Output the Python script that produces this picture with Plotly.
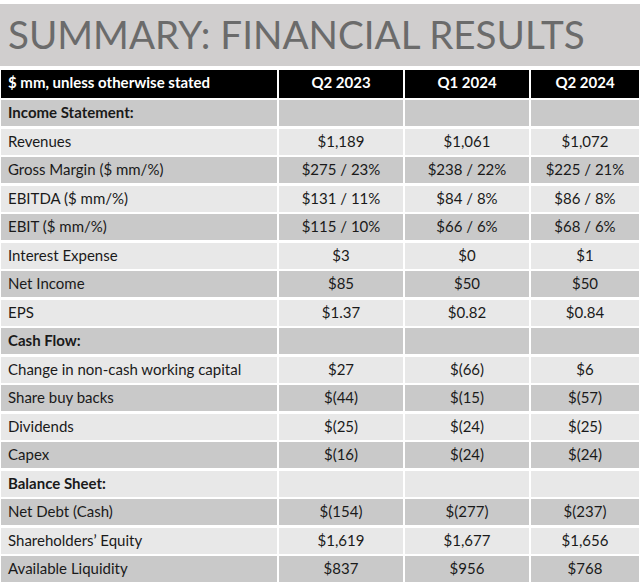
import plotly.graph_objects as go

# Données du tableau
col_headers = ["$ mm, unless otherwise stated", "Q2 2023", "Q1 2024", "Q2 2024"]

row_labels = [
    "Income Statement:", "Revenues", "Gross Margin ($ mm/%)", "EBITDA ($ mm/%)",
    "EBIT ($ mm/%)", "Interest Expense", "Net Income", "EPS",
    "Cash Flow:", "Change in non-cash working capital", "Share buy backs", "Dividends",
    "Capex", "Balance Sheet:", "Net Debt (Cash)", "Shareholders’ Equity",
    "Available Liquidity",
]
section_rows = ["Income Statement:", "Cash Flow:", "Balance Sheet:"]

q2_2023 = ["", "$1,189", "$275 / 23%", "$131 / 11%", "$115 / 10%", "$3", "$85", "$1.37",
           "", "$27", "$(44)", "$(25)", "$(16)", "", "$(154)", "$1,619", "$837"]
q1_2024 = ["", "$1,061", "$238 / 22%", "$84 / 8%", "$66 / 6%", "$0", "$50", "$0.82",
           "", "$(66)", "$(15)", "$(24)", "$(24)", "", "$(277)", "$1,677", "$956"]
q2_2024 = ["", "$1,072", "$225 / 21%", "$86 / 8%", "$68 / 6%", "$1", "$50", "$0.84",
           "", "$6", "$(57)", "$(25)", "$(24)", "", "$(237)", "$1,656", "$768"]

# Couleurs
colors = {
    'title_bg': '#d0cece',
    'title': '#6b6b6b',
    'dark_row': '#c9c9c9',
    'light_row': '#e8e8e8',
    'text': '#1a1a1a',
}

W, H = 640, 583
row_fill = [colors['dark_row'] if i % 2 == 0 else colors['light_row'] for i in range(len(row_labels))]

# les titres de section sont écrits en gras par un second tableau transparent
# (un <b> dans une cellule agrandit la ligne)
plain_labels = ["" if lab in section_rows else lab for lab in row_labels]
bold_labels = [lab if lab in section_rows else "" for lab in row_labels]

table_dom = {'x': [0, 1], 'y': [0, 1 - 69 / H]}
fig = go.Figure(go.Table(
    domain=table_dom,
    columnwidth=[278, 126, 126, 110],
    header=dict(
        values=col_headers,
        fill_color='black',
        line=dict(color='white', width=2.5),
        align=['left', 'center', 'center', 'center'],
        font=dict(family='Lato', size=15, color='white', weight='bold'),
        height=30,
    ),
    cells=dict(
        values=[plain_labels, q2_2023, q1_2024, q2_2024],
        fill_color=[row_fill] * 4,
        line=dict(color='white', width=2.5),
        align=['left', 'center', 'center', 'center'],
        font=dict(family='Lato', size=15, color=colors['text']),
        height=28.5,
    ),
))

fig.add_trace(go.Table(
    domain={'x': [0, 278 / W], 'y': table_dom['y']},
    header=dict(values=[""], fill_color='rgba(0,0,0,0)',
                line=dict(color='rgba(0,0,0,0)', width=0), height=30),
    cells=dict(
        values=[bold_labels],
        fill_color='rgba(0,0,0,0)',
        line=dict(color='rgba(0,0,0,0)', width=0),
        align='left',
        font=dict(family='Lato', size=15, color=colors['text'], weight='bold'),
        height=28.5,
    ),
))

# bandeau du titre
fig.add_shape(type='rect', xref='paper', yref='paper', x0=0, x1=1,
              y0=1 - 66 / H, y1=1 - 4 / H, fillcolor=colors['title_bg'], line_width=0, layer='below')
fig.add_annotation(text="SUMMARY: FINANCIAL RESULTS", xref='paper', yref='paper',
                   x=6 / W, y=1 - 34 / H, xanchor='left', yanchor='middle', showarrow=False,
                   font=dict(family='Lato', size=38.6, color=colors['title']))

fig.update_layout(width=W, height=H, margin=dict(l=0, r=0, t=0, b=0),
                  paper_bgcolor='white', plot_bgcolor='white')

# pas de marge autour de la page
fig.write_html("out.html", config={'displayModeBar': False},
               post_script="document.body.style.margin='0px';")
